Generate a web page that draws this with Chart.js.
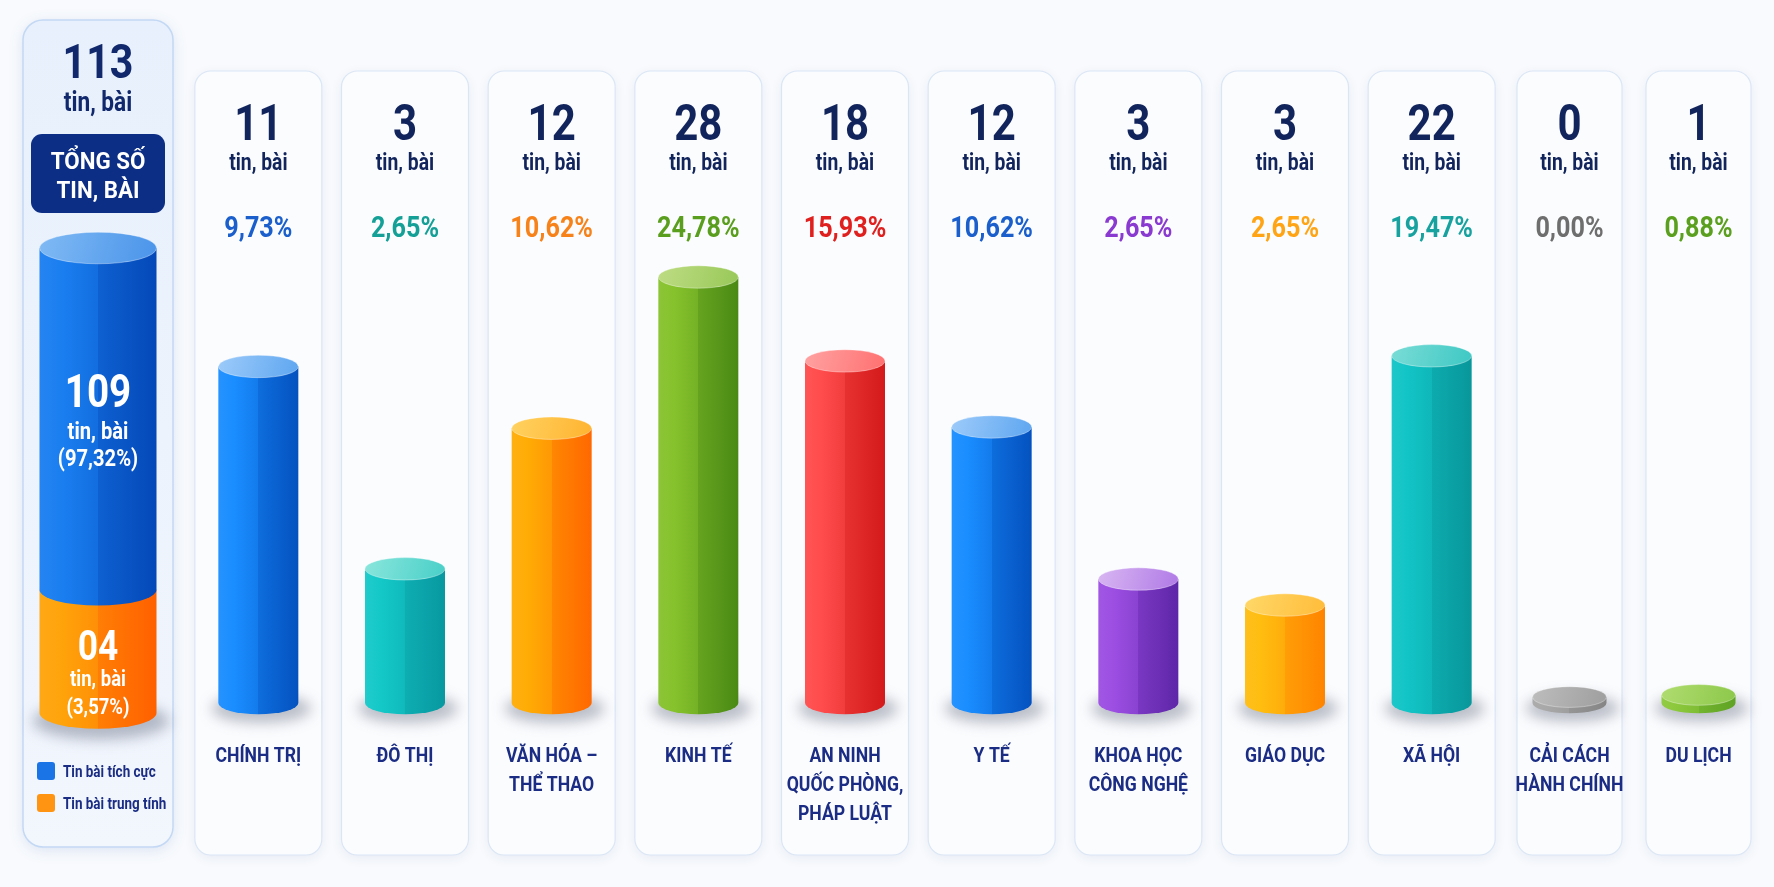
<!DOCTYPE html>
<html>
<head>
<meta charset="utf-8">
<script src="https://cdn.jsdelivr.net/npm/chart.js@4.4.1/dist/chart.umd.min.js"></script>
<style>
  html, body { margin: 0; padding: 0; background: #f8fafd; overflow: hidden; }
  .layer { position: absolute; left: 0; top: 0; }
</style>
</head>
<body>

<canvas id="totalChart" class="layer" width="1774" height="887"></canvas>
<canvas id="topicChart" class="layer" width="1774" height="887"></canvas>
<canvas id="smallChart" class="layer" width="1774" height="887"></canvas>

<script>
// ---- data ----
const topics = [
    ['CHÍNH TRỊ'], ['ĐÔ THỊ'], ['VĂN HÓA –', 'THỂ THAO'], ['KINH TẾ'],
    ['AN NINH', 'QUỐC PHÒNG,', 'PHÁP LUẬT'], ['Y TẾ'], ['KHOA HỌC', 'CÔNG NGHỆ'],
    ['GIÁO DỤC'], ['XÃ HỘI'], ['CẢI CÁCH', 'HÀNH CHÍNH'], ['DU LỊCH']
];
const topicCount = [11, 3, 12, 28, 18, 12, 3, 3, 22, 0, 1];
const topicShare = [9.73, 2.65, 10.62, 24.78, 15.93, 10.62, 2.65, 2.65, 19.47, 0.00, 0.88];
// height of each cylinder as drawn in the infographic, % of the tallest one
// (the picture does not draw them to scale with the counts)
const topicBarLevel = [79, 31.5, 64.5, 100, 80.3, 64.8, 29.1, 23, 81.5, 1.4, 1.9];

const totalCount = 113;
const totalTitle = ['TỔNG SỐ', 'TIN, BÀI'];
const toneLabels = ['Tin bài tích cực', 'Tin bài trung tính'];
const toneCount = [109, 4];
const toneShare = [97.32, 3.57];
const toneBarLevel = [73.5, 26.5];   // drawn share of the left cylinder
const unitText = 'tin, bài';

// ---- styles ----
// [body left, body right, cap light, cap dark, percent text]
const topicPalette = [
    ['#1a8dff', '#0452c0', '#9dcbfa', '#5ea6f0', '#1a5fcc'],
    ['#14c8c8', '#0898a0', '#8ae6dc', '#48cfc8', '#14a096'],
    ['#ffac05', '#ff6800', '#ffd260', '#ffb330', '#f7821a'],
    ['#86c22c', '#4a8a14', '#bedc84', '#98c858', '#5a9e1e'],
    ['#ff4c4c', '#d41a1a', '#ffa2a2', '#ff7070', '#e0201e'],
    ['#1a8dff', '#0452c0', '#9dcbfa', '#5ea6f0', '#1a5fcc'],
    ['#9c4ee2', '#5e26a8', '#d8b6f2', '#b07ae6', '#8a3ad0'],
    ['#ffbd10', '#ff8400', '#ffd868', '#ffbc3a', '#ffa414'],
    ['#12c4c6', '#08979b', '#7adcd6', '#3ec8c4', '#17a2a0'],
    ['#a8a8a8', '#858585', '#bdbdbd', '#9e9e9e', '#6e6e6e'],
    ['#8cc83c', '#5fa324', '#b0dc70', '#8cc84a', '#5aa01e']
];
const tonePalette = [
    ['#1a7ef0', '#0448b8', '#80baf4', '#4a94ea'],
    ['#ffa30a', '#ff6000', '#ffc860', '#ff9a30']
];
const toneSwatch = ['#1a74e6', '#ff9412'];

const NAVY = '#12245c';
const LABEL = '#1a2c84';
const SQUEEZE = 0.84;       // narrows Roboto to look condensed
const PANEL_TOP = 71, PANEL_BOTTOM = 855;

function mix(a, b, t) {
    const pa = parseInt(a.slice(1), 16), pb = parseInt(b.slice(1), 16);
    const c = s => Math.round(((pa >> s) & 255) * (1 - t) + ((pb >> s) & 255) * t);
    return 'rgb(' + c(16) + ',' + c(8) + ',' + c(0) + ')';
}

function pct(v) {
    return v.toFixed(2).replace('.', ',') + '%';
}

function text(ctx, str, x, y, size, color, squeeze) {
    ctx.save();
    ctx.translate(x, y);
    ctx.scale(squeeze || SQUEEZE, 1);
    ctx.font = '700 ' + size + 'px Roboto, "Noto Sans", sans-serif';
    ctx.fillStyle = color;
    ctx.textAlign = 'center';
    ctx.textBaseline = 'alphabetic';
    ctx.fillText(str, 0, 0);
    ctx.restore();
}

function baseShadow(ctx, cx, base, w, ry) {
    ctx.save();
    ctx.filter = 'blur(7px)';
    ctx.fillStyle = 'rgba(60,70,95,0.35)';
    ctx.beginPath();
    ctx.ellipse(cx + 3, base + ry * 0.5, w / 2 + 10, ry + 3, 0, 0, Math.PI * 2);
    ctx.fill();
    ctx.restore();
}

function cylinder(ctx, cx, top, base, w, ry, pal, withCap) {
    const rx = w / 2, x0 = cx - rx, x1 = cx + rx;
    const g = ctx.createLinearGradient(x0, 0, x1, 0);
    g.addColorStop(0, mix(pal[0], '#ffffff', 0.05));
    g.addColorStop(0.2, pal[0]);
    g.addColorStop(0.5, mix(pal[0], pal[1], 0.3));
    g.addColorStop(0.5, mix(pal[0], pal[1], 0.55));
    g.addColorStop(1, pal[1]);
    ctx.beginPath();
    ctx.moveTo(x0, top);
    ctx.lineTo(x0, base);
    ctx.ellipse(cx, base, rx, ry, 0, Math.PI, 0, true);
    ctx.lineTo(x1, top);
    ctx.closePath();
    ctx.fillStyle = g;
    ctx.fill();
    if (withCap) {
        const tg = ctx.createLinearGradient(x0, top - ry, x1, top + ry);
        tg.addColorStop(0, pal[2]);
        tg.addColorStop(1, pal[3]);
        ctx.beginPath();
        ctx.ellipse(cx, top, rx, ry, 0, 0, Math.PI * 2);
        ctx.fillStyle = tg;
        ctx.fill();
        ctx.strokeStyle = 'rgba(255,255,255,0.35)';
        ctx.lineWidth = 1;
        ctx.stroke();
    }
}

// ---- topic panels (one plugin, used by two charts) ----
const topicPanels = {
    id: 'topicPanels',
    beforeDraw(chart, args, o) {
        const ctx = chart.ctx, xs = chart.scales.x;
        chart.data.labels.forEach((l, i) => {
            const cx = xs.getPixelForValue(i);
            ctx.save();
            ctx.shadowColor = 'rgba(40,70,140,0.08)';
            ctx.shadowBlur = 12;
            ctx.shadowOffsetY = 3;
            ctx.beginPath();
            ctx.roundRect(cx - o.panelW / 2, PANEL_TOP, o.panelW, PANEL_BOTTOM - PANEL_TOP, 16);
            ctx.fillStyle = '#fbfcfe';
            ctx.fill();
            ctx.restore();
            ctx.strokeStyle = '#dbe6f5';
            ctx.lineWidth = 1.2;
            ctx.stroke();
        });
    },
    beforeDatasetsDraw(chart, args, o) {
        const ctx = chart.ctx;
        chart.getDatasetMeta(0).data.forEach((el, i) => {
            const p = el.getProps(['x', 'y', 'base', 'width'], true);
            const ry = p.width * 0.14;
            baseShadow(ctx, p.x, p.base, p.width, ry);
            cylinder(ctx, p.x, p.y, p.base, p.width, ry, topicPalette[i + o.from], true);
        });
        return false;
    },
    afterDraw(chart, args, o) {
        const ctx = chart.ctx, xs = chart.scales.x;
        chart.data.labels.forEach((lines, i) => {
            const k = i + o.from, cx = xs.getPixelForValue(i);
            text(ctx, String(topicCount[k]), cx, 140, 50, NAVY);
            text(ctx, unitText, cx, 170, 23, NAVY);
            text(ctx, pct(topicShare[k]), cx, 237, 30, topicPalette[k][4]);
            lines.forEach((line, j) => text(ctx, line, cx, 762 + j * 29, 21, LABEL));
        });
    }
};

function topicChart(id, from, to, padLeft, padRight, barW, panelW) {
    return new Chart(document.getElementById(id), {
        type: 'bar',
        data: {
            labels: topics.slice(from, to),
            datasets: [{
                data: topicBarLevel.slice(from, to),
                backgroundColor: topicPalette.slice(from, to).map(p => p[0])
            }]
        },
        options: {
            responsive: false,
            animation: false,
            events: [],
            layout: { padding: { left: padLeft, right: padRight, top: 277, bottom: 184 } },
            datasets: { bar: { barThickness: barW } },
            scales: {
                x: { display: false },
                y: { display: false, min: 0, max: 100 }
            },
            plugins: {
                legend: { display: false },
                tooltip: { enabled: false },
                topicPanels: { from: from, panelW: panelW }
            }
        },
        plugins: [topicPanels]
    });
}

// ---- total panel ----
const totalPanel = {
    id: 'totalPanel',
    beforeDraw(chart) {
        const ctx = chart.ctx, a = chart.chartArea;
        ctx.save();
        ctx.shadowColor = 'rgba(40,90,180,0.14)';
        ctx.shadowBlur = 14;
        ctx.shadowOffsetY = 3;
        ctx.beginPath();
        ctx.roundRect(a.left, 20, a.right - a.left, 827, 20);
        const bg = ctx.createLinearGradient(0, 20, 0, 847);
        bg.addColorStop(0, '#e7f0fc');
        bg.addColorStop(1, '#f2f6fd');
        ctx.fillStyle = bg;
        ctx.fill();
        ctx.restore();
        ctx.strokeStyle = '#c3d8f4';
        ctx.lineWidth = 1.5;
        ctx.stroke();

        ctx.beginPath();
        ctx.roundRect(a.left + 8, 134, a.right - a.left - 16, 79, 11);
        ctx.fillStyle = '#0d2e85';
        ctx.fill();
    },
    beforeDatasetsDraw(chart) {
        const ctx = chart.ctx;
        const low = chart.getDatasetMeta(0).data[0].getProps(['x', 'y', 'base', 'width'], true);
        const up = chart.getDatasetMeta(1).data[0].getProps(['x', 'y', 'base', 'width'], true);
        const ry = low.width * 0.135;
        baseShadow(ctx, low.x, low.base, low.width, ry);
        cylinder(ctx, low.x, low.y, low.base, low.width, ry, tonePalette[1], false);
        cylinder(ctx, up.x, up.y, up.base, up.width, ry, tonePalette[0], true);
        return false;
    },
    afterDraw(chart) {
        const ctx = chart.ctx, a = chart.chartArea;
        const cx = (a.left + a.right) / 2;
        text(ctx, String(totalCount), cx, 78, 49, '#11296c');
        text(ctx, unitText, cx, 111, 27, '#11296c');
        text(ctx, totalTitle[0], cx, 169, 24, '#ffffff', 0.93);
        text(ctx, totalTitle[1], cx, 198, 24, '#ffffff', 0.93);

        const low = chart.getDatasetMeta(0).data[0].getProps(['y', 'base'], true);
        const up = chart.getDatasetMeta(1).data[0].getProps(['y', 'base'], true);
        const cu = (up.y + up.base) / 2;
        text(ctx, String(toneCount[0]).padStart(2, '0'), cx, cu - 12, 46, '#ffffff');
        text(ctx, unitText, cx, cu + 20, 24, '#ffffff');
        text(ctx, '(' + pct(toneShare[0]) + ')', cx, cu + 47, 24, '#ffffff');
        const cl = (low.y + low.base) / 2;
        text(ctx, String(toneCount[1]).padStart(2, '0'), cx, cl + 9, 42, '#ffffff');
        text(ctx, unitText, cx, cl + 35, 22, '#ffffff');
        text(ctx, '(' + pct(toneShare[1]) + ')', cx, cl + 63, 22, '#ffffff');

        // legend, positive first
        [1, 0].forEach((d, j) => {
            const ds = chart.data.datasets[d];
            const y = 762 + j * 32;
            ctx.beginPath();
            ctx.roundRect(a.left + 14, y, 18, 18, 3);
            ctx.fillStyle = ds.backgroundColor;
            ctx.fill();
            ctx.save();
            ctx.translate(a.left + 40, y + 15);
            ctx.scale(SQUEEZE, 1);
            ctx.font = '700 16px Roboto, "Noto Sans", sans-serif';
            ctx.fillStyle = LABEL;
            ctx.textAlign = 'left';
            ctx.fillText(ds.label, 0, 0);
            ctx.restore();
        });
    }
};

new Chart(document.getElementById('totalChart'), {
    type: 'bar',
    data: {
        labels: ['total'],
        datasets: [
            { label: toneLabels[1], data: [toneBarLevel[1]], backgroundColor: toneSwatch[1] },
            { label: toneLabels[0], data: [toneBarLevel[0]], backgroundColor: toneSwatch[0] }
        ]
    },
    options: {
        responsive: false,
        animation: false,
        events: [],
        layout: { padding: { left: 23, right: 1601, top: 248, bottom: 174 } },
        datasets: { bar: { barThickness: 117 } },
        scales: {
            x: { display: false, stacked: true },
            y: { display: false, stacked: true, min: 0, max: 100 }
        },
        plugins: { legend: { display: false }, tooltip: { enabled: false } }
    },
    plugins: [totalPanel]
});

topicChart('topicChart', 0, 9, 185, 269, 80, 127);
topicChart('smallChart', 9, 11, 1505, 11, 74, 105);
</script>
</body>
</html>
